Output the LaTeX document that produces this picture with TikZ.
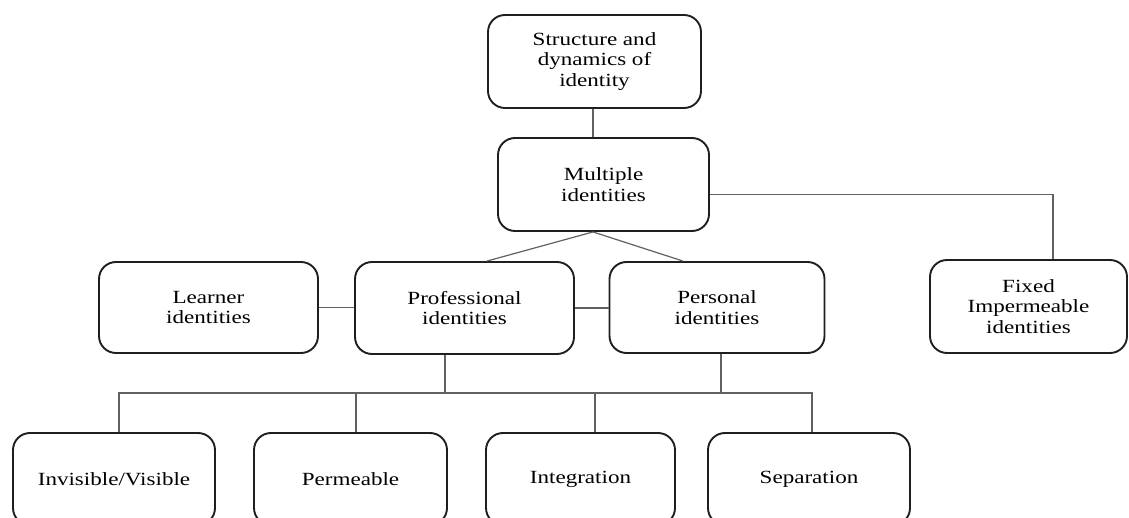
\documentclass[tikz,border=0pt]{standalone}
\usepackage{fontspec}
\setmainfont[FakeStretch=1.24]{Liberation Serif}
\begin{document}
\begin{tikzpicture}[x=1pt,y=-1pt,
  box/.style={draw=black!88, line width=1.9pt, rounded corners=17pt,
    align=center, inner sep=0pt, text=black,
    font=\fontsize{18.6}{20.5}\selectfont},
  link/.style={draw=black!62, line width=1.2pt}]
\useasboundingbox (0,0) rectangle (1129,518);
\clip (0,0) rectangle (1129,518);

% upper levels
\node[box, minimum width=213pt, minimum height=93pt] (top) at (594.5,61.5)
  {Structure and\\dynamics of\\identity};
\node[box, minimum width=211pt, minimum height=93pt] (multi) at (603.5,184.5)
  {Multiple\\identities};

% middle row
\node[box, minimum width=219pt, minimum height=91pt] (learner) at (208.5,307.5)
  {Learner\\identities};
\node[box, minimum width=219pt, minimum height=92pt] (prof) at (464.5,308)
  {Professional\\identities};
\node[box, minimum width=215pt, minimum height=91pt] (pers) at (717,307.5)
  {Personal\\identities};
\node[box, minimum width=197pt, minimum height=93pt] (fixed) at (1028.5,306.5)
  {Fixed\\Impermeable\\identities};

% bottom row
\node[box, minimum width=202pt, minimum height=92pt] (invis) at (114,479)
  {Invisible/Visible};
\node[box, minimum width=193pt, minimum height=92pt] (perm) at (350.5,479)
  {Permeable};
\node[box, minimum width=189pt, minimum height=92pt] (integ) at (580.5,479)
  {Integration};
\node[box, minimum width=202pt, minimum height=92pt] (sep) at (809,479)
  {Separation};

% connectors
\coordinate (apex) at ([xshift=-10.5pt]multi.south);
\coordinate (busy) at (0,393);

\draw[link] ([xshift=-1.5pt]top.south) -- ([xshift=-1.5pt]top.south |- multi.north);
\draw[link] ([xshift=22.5pt]prof.north) -- (apex) -- ([xshift=-34pt]pers.north);
\draw[link] ([yshift=-10pt]multi.east) -| ([xshift=24.5pt]fixed.north);
\draw[link] (learner.east) -- (learner.east -| prof.west);
\draw[link] (prof.east) -- (prof.east -| pers.west);

\draw[link] ([xshift=-19.5pt]prof.south) -- ([xshift=-19.5pt]prof.south |- busy);
\draw[link] ([xshift=4pt]pers.south) -- ([xshift=4pt]pers.south |- busy);
\draw[link] ([xshift=5pt]invis.north) |- ([xshift=3pt]sep.north |- busy)
  -- ([xshift=3pt]sep.north);
\draw[link] ([xshift=5.5pt]perm.north) -- ([xshift=5.5pt]perm.north |- busy);
\draw[link] ([xshift=14.5pt]integ.north) -- ([xshift=14.5pt]integ.north |- busy);
\end{tikzpicture}
\end{document}
